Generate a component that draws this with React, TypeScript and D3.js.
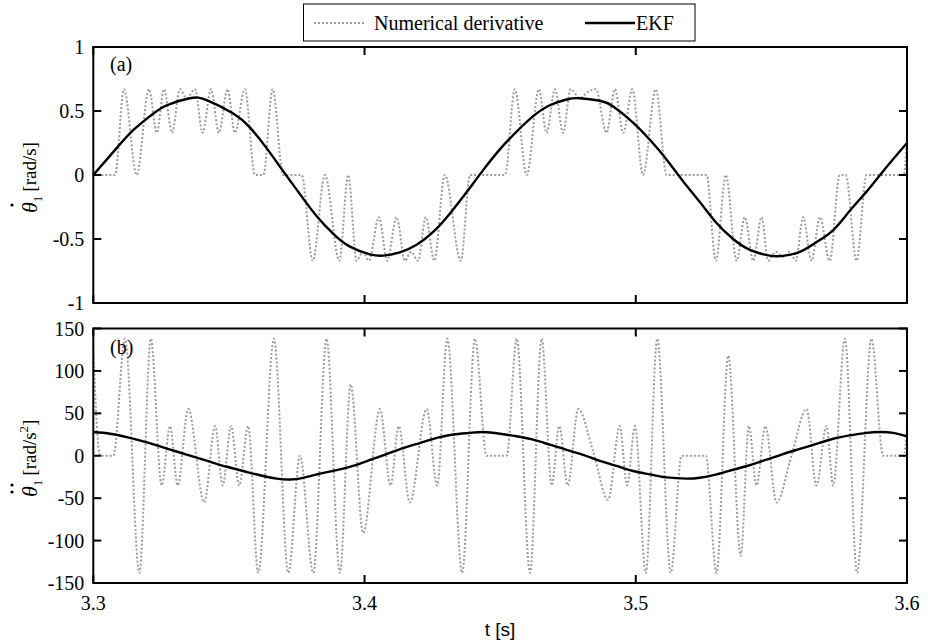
import React from 'react';
import * as d3 from 'd3';

// ---------- data ----------
const xTicks = [3.3, 3.4, 3.5, 3.6];
const xTickLabels = ['3.3', '3.4', '3.5', '3.6'];
const velTicks = [-1, -0.5, 0, 0.5, 1];
const velTickLabels = ['-1', '-0.5', '0', '0.5', '1'];
const accTicks = [-150, -100, -50, 0, 50, 100, 150];
const accTickLabels = ['-150', '-100', '-50', '0', '50', '100', '150'];
const legendLabels = ['Numerical derivative', 'EKF'];

// (a) numerical derivative of angle
const velNumT = [3.3, 3.308, 3.3113, 3.316, 3.3205, 3.3234, 3.3261, 3.329, 3.332, 3.3344, 3.3375, 3.3403,
  3.3434, 3.3463, 3.3495, 3.3522, 3.3559, 3.3596, 3.3627, 3.3661, 3.37, 3.3768, 3.3809, 3.3854, 3.3907,
  3.394, 3.3971, 3.3994, 3.4016, 3.4053, 3.4084, 3.4118, 3.4149, 3.4171, 3.4197, 3.4226, 3.4257, 3.4296,
  3.4355, 3.4389, 3.4518, 3.4554, 3.4598, 3.4643, 3.4671, 3.4702, 3.4732, 3.476, 3.4794, 3.4824, 3.4853,
  3.4892, 3.4923, 3.4954, 3.4987, 3.5027, 3.5074, 3.5114, 3.5261, 3.5295, 3.5332, 3.5372, 3.5402, 3.5433,
  3.5464, 3.5488, 3.5516, 3.5546, 3.5568, 3.559, 3.5617, 3.5648, 3.5679, 3.5715, 3.5752, 3.5774, 3.5814,
  3.5851, 3.5988, 3.6];
const velNumV = [0, 0, 0.67, 0, 0.67, 0.33, 0.67, 0.33, 0.67, 0.6, 0.67, 0.33,
  0.67, 0.33, 0.67, 0.33, 0.67, 0, 0, 0.67, 0, 0, -0.67, 0, -0.67,
  0, -0.67, -0.6, -0.67, -0.33, -0.67, -0.33, -0.67, -0.6, -0.67, -0.33, -0.67, 0,
  -0.67, 0, 0, 0.67, 0, 0.67, 0.33, 0.67, 0.33, 0.67, 0.6, 0.65, 0.67,
  0.33, 0.67, 0.33, 0.67, 0, 0.67, 0, 0, -0.67, 0, -0.67, -0.33, -0.67,
  -0.33, -0.67, -0.6, -0.64, -0.6, -0.67, -0.33, -0.67, -0.33, -0.67, 0, 0, -0.67,
  0, 0, 0.3];

// (a) EKF angular velocity
const velEkfT = [3.3, 3.3086, 3.3147, 3.3209, 3.3271, 3.3356, 3.3418, 3.3516, 3.3578, 3.3639, 3.37,
  3.3762, 3.3823, 3.3885, 3.3946, 3.402, 3.4069, 3.413, 3.4192, 3.4253, 3.4315, 3.4376, 3.4438,
  3.4499, 3.4561, 3.4622, 3.4683, 3.4745, 3.4794, 3.4868, 3.4917, 3.499, 3.5052, 3.5114, 3.5175,
  3.5236, 3.5298, 3.5359, 3.5421, 3.5494, 3.5543, 3.5605, 3.5666, 3.5728, 3.5789, 3.5851, 3.5912, 3.6];
const velEkfV = [0, 0.21, 0.35, 0.46, 0.545, 0.6, 0.585, 0.48, 0.37, 0.21, 0.03,
  -0.15, -0.32, -0.46, -0.56, -0.62, -0.63, -0.605, -0.545, -0.445, -0.3, -0.135, 0.04,
  0.2, 0.34, 0.46, 0.545, 0.59, 0.6, 0.58, 0.535, 0.41, 0.275, 0.12, -0.05,
  -0.21, -0.375, -0.5, -0.585, -0.63, -0.632, -0.6, -0.525, -0.43, -0.28, -0.13, 0.03, 0.25];

// (b) numerical second derivative
const accNumT = [3.3, 3.3025, 3.3074, 3.3117, 3.317, 3.3212, 3.3252, 3.3283, 3.3311, 3.335, 3.3409,
  3.3449, 3.3477, 3.3508, 3.3538, 3.3571, 3.3608, 3.3666, 3.3719, 3.3762, 3.3811, 3.386, 3.3909,
  3.3949, 3.3995, 3.4057, 3.4096, 3.4126, 3.4167, 3.4229, 3.4268, 3.4305, 3.436, 3.4407, 3.445,
  3.4524, 3.4561, 3.461, 3.4653, 3.469, 3.4718, 3.4749, 3.4788, 3.4843, 3.4898, 3.4941, 3.4968,
  3.4997, 3.5037, 3.5079, 3.5129, 3.5169, 3.5258, 3.5298, 3.5341, 3.5387, 3.5417, 3.5445, 3.5478,
  3.5519, 3.5574, 3.563, 3.5666, 3.5703, 3.5728, 3.5771, 3.5816, 3.5869, 3.5912, 3.5988, 3.6];
const accNumV = [125, 0, 0, 138, -138, 138, -35, 35, -35, 55, -55,
  35, -35, 35, -35, 35, -138, 138, -138, 0, -138, 138, -138,
  84, -91, 55, -35, 35, -55, 55, -35, 138, -138, 138, 0,
  0, 138, -138, 138, -35, 35, -35, 55, 5, -52, 35, -35,
  35, -138, 138, -138, 0, 0, -138, 118, -118, 35, -35, 35,
  -55, 0, 55, -35, 35, -35, 138, -138, 138, 0, 0, 35];

// (b) EKF angular acceleration
const accEkfT = [3.3, 3.3062, 3.3123, 3.3184, 3.3246, 3.3307, 3.3369, 3.343, 3.3492, 3.3553, 3.3614,
  3.3676, 3.3725, 3.3774, 3.3836, 3.3897, 3.3958, 3.402, 3.4081, 3.4143, 3.4204, 3.4266, 3.4327,
  3.4388, 3.4438, 3.4499, 3.4561, 3.4622, 3.4683, 3.4745, 3.4806, 3.4868, 3.4929, 3.499, 3.5052,
  3.5114, 3.5187, 3.5236, 3.5298, 3.5359, 3.5421, 3.5482, 3.5543, 3.5605, 3.5666, 3.5728, 3.5789,
  3.5851, 3.59, 3.5949, 3.6];
const accEkfV = [28, 26, 22, 17, 11, 5, -1, -7, -13, -18, -23,
  -27, -28, -26, -21, -17, -12, -5, 2, 9, 15, 21, 25,
  27, 28, 26, 23, 19, 13, 7, 1, -6, -12, -18, -22,
  -25.5, -27, -26, -22, -16.5, -11, -4.7, 2, 8, 14, 20, 24,
  27, 28, 27, 23];

// ---------- layout ----------
const W = 928;
const H = 643;
const LEFT = 93.3;
const RIGHT = 907;
const TOP_A = 47;
const BOT_A = 303;
const TOP_B = 328.5;
const BOT_B = 583;
const SERIF = "'Liberation Serif', Tinos, 'Times New Roman', 'DejaVu Serif', serif";
const SANS = "'Liberation Sans', Arimo, Arial, sans-serif";
const GRAY = '#9c9c9c';
const serif = (size: number): React.CSSProperties => ({ fontFamily: SERIF, fontSize: size });

type Pt = [number, number];
const zip = (t: number[], v: number[]): Pt[] => t.map((d, i) => [d, v[i]]);

export default function App() {
  const x = d3.scaleLinear().domain([3.3, 3.6]).range([LEFT, RIGHT]);
  const yA = d3.scaleLinear().domain([-1, 1]).range([BOT_A, TOP_A]);
  const yB = d3.scaleLinear().domain([-150, 150]).range([BOT_B, TOP_B]);

  const mk = (y: d3.ScaleLinear<number, number>, curve: d3.CurveFactory) =>
    d3.line<Pt>().x((d) => x(d[0])).y((d) => y(d[1])).curve(curve);

  const velNumPath = mk(yA, d3.curveMonotoneX)(zip(velNumT, velNumV)) || '';
  const velEkfPath = mk(yA, d3.curveNatural)(zip(velEkfT, velEkfV)) || '';
  const accNumPath = mk(yB, d3.curveMonotoneX)(zip(accNumT, accNumV)) || '';
  const accEkfPath = mk(yB, d3.curveNatural)(zip(accEkfT, accEkfV)) || '';

  const TL = 8;

  const panel = (
    top: number,
    bottom: number,
    y: d3.ScaleLinear<number, number>,
    ticks: number[],
    labels: string[],
    id: string,
    numPath: string,
    ekfPath: string,
    tag: string,
    tagY: number
  ) => (
    <g>
      <defs>
        <clipPath id={id}>
          <rect x={LEFT} y={top} width={RIGHT - LEFT} height={bottom - top} />
        </clipPath>
      </defs>
      <g clipPath={`url(#${id})`}>
        <path d={numPath} fill="none" stroke={GRAY} strokeWidth={2} strokeDasharray="2 2" />
        <path d={ekfPath} fill="none" stroke="#000" strokeWidth={2.4} strokeLinejoin="round" />
      </g>
      {ticks.map((t, i) => (
        <g key={'y' + i}>
          <line x1={LEFT} x2={LEFT + TL} y1={y(t)} y2={y(t)} stroke="#000" strokeWidth={2} />
          <line x1={RIGHT} x2={RIGHT - TL} y1={y(t)} y2={y(t)} stroke="#000" strokeWidth={2} />
          <text x={LEFT - 9} y={y(t)} dy="0.35em" textAnchor="end" style={serif(20)}>
            {labels[i]}
          </text>
        </g>
      ))}
      {xTicks.map((t, i) => (
        <g key={'x' + i}>
          <line x1={x(t)} x2={x(t)} y1={top} y2={top + TL} stroke="#000" strokeWidth={2} />
          <line x1={x(t)} x2={x(t)} y1={bottom} y2={bottom - TL} stroke="#000" strokeWidth={2} />
        </g>
      ))}
      <rect x={LEFT} y={top} width={RIGHT - LEFT} height={bottom - top} fill="none" stroke="#000" strokeWidth={2} />
      <text x={110} y={tagY} style={serif(20)}>{tag}</text>
    </g>
  );

  return (
    <svg width={W} height={H} style={{ position: 'absolute', left: 0, top: 0, background: '#fff' }}>
      <rect x={0} y={0} width={W} height={H} fill="#fff" />
      {/* legend */}
      <rect x={303.5} y={4} width={391.5} height={37} fill="#fff" stroke="#000" strokeWidth={1} />
      <line x1={314} x2={364} y1={23} y2={23} stroke={GRAY} strokeWidth={2} strokeDasharray="2 2" />
      <text x={374} y={30} style={serif(20)}>{legendLabels[0]}</text>
      <line x1={585} x2={635} y1={23} y2={23} stroke="#000" strokeWidth={2.4} />
      <text x={636} y={30} style={serif(20)}>{legendLabels[1]}</text>

      {panel(TOP_A, BOT_A, yA, velTicks, velTickLabels, 'clipA', velNumPath, velEkfPath, '(a)', 71)}
      {panel(TOP_B, BOT_B, yB, accTicks, accTickLabels, 'clipB', accNumPath, accEkfPath, '(b)', 354)}

      {/* x tick labels */}
      {xTicks.map((t, i) => (
        <text key={'xl' + i} x={x(t)} y={610} textAnchor="middle" style={serif(20)}>
          {xTickLabels[i]}
        </text>
      ))}
      <text x={500} y={636} textAnchor="middle" style={{ fontFamily: SANS, fontSize: 19 }}>t [s]</text>

      {/* y label (a) */}
      <g transform="translate(37,213) rotate(-90)">
        <text x={0} y={0} style={serif(19)}>
          <tspan style={{ fontStyle: 'italic', fontSize: 22 }}>θ</tspan>
          <tspan style={{ fontSize: 13 }} dy={5}>1</tspan>
          <tspan dy={-6} dx={4}>[rad/s]</tspan>
        </text>
        <circle cx={8} cy={-25} r={1.6} fill="#000" />
      </g>
      {/* y label (b) */}
      <g transform="translate(37,497) rotate(-90)">
        <text x={0} y={0} style={serif(19)}>
          <tspan style={{ fontStyle: 'italic', fontSize: 22 }}>θ</tspan>
          <tspan style={{ fontSize: 13 }} dy={5}>1</tspan>
          <tspan dy={-6} dx={4}>[rad/s</tspan>
          <tspan style={{ fontSize: 13 }} dy={-8}>2</tspan>
          <tspan dy={8}>]</tspan>
        </text>
        <circle cx={5} cy={-25} r={1.6} fill="#000" />
        <circle cx={12} cy={-25} r={1.6} fill="#000" />
      </g>
    </svg>
  );
}
